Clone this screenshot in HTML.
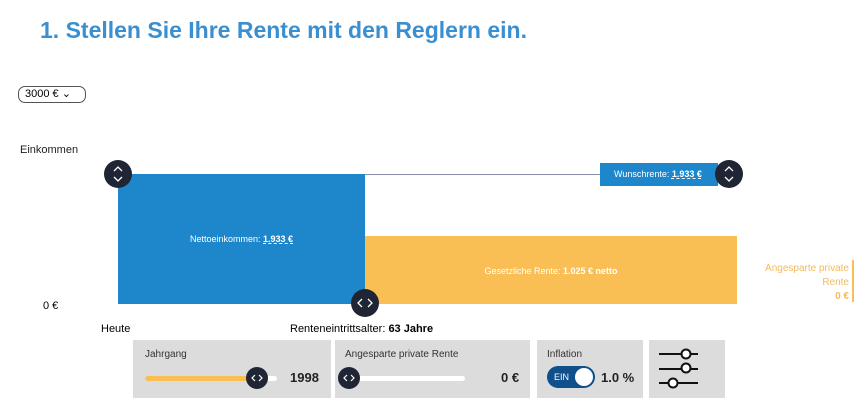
<!DOCTYPE html><html><head><style>
body{margin:0;width:865px;height:410px;background:#fff;font-family:"Liberation Sans",sans-serif;position:relative;overflow:hidden}
.a{position:absolute}
.h{position:absolute;width:28px;height:28px;border-radius:50%;background:#1f2535}
.h svg{position:absolute;left:0;top:0}
.p{position:absolute;top:340px;height:58px;background:#dcdcdc}
.l{position:absolute;font-size:10px;color:#333;top:9px}
</style></head><body>
<div class="a" style="left:40px;top:17px;font-size:23px;font-weight:bold;color:#3a8fd0">1. Stellen Sie Ihre Rente mit den Reglern ein.</div>
<div class="a" style="left:18px;top:86px;width:60px;height:15px;border:1px solid #555;border-radius:7px;font-size:11px;line-height:15px;padding-left:6px">3000 € &#8964;</div>
<div class="a" style="left:20px;top:144px;font-size:11px;color:#222">Einkommen</div>
<div class="a" style="left:365px;top:174px;width:235px;height:1px;background:#8a8ea8"></div>
<div class="a" style="left:118px;top:174px;width:247px;height:130px;background:#1e87cc;color:#fff;font-size:9px;text-align:center;line-height:130px">Nettoeinkommen: <b style="text-decoration:underline dashed">1.933 €</b></div>
<div class="a" style="left:365px;top:236px;width:372px;height:68px;background:#f9bf55;color:#fff;font-size:9px;text-align:center;line-height:70px">Gesetzliche Rente: <b>1.025 € netto</b></div>
<div class="a" style="left:600px;top:163px;width:118px;height:23px;background:#1e87cc;color:#fff;font-size:9px;line-height:23px;padding-left:14px;box-sizing:border-box">Wunschrente: <b style="text-decoration:underline dashed">1.933 €</b></div>
<div class="h" style="left:104px;top:160px"><svg width="28" height="28" fill="none" stroke="#fff" stroke-width="1.3"><polyline points="10,11 14,7 18,11"/><polyline points="10,17 14,21 18,17"/></svg></div>
<div class="h" style="left:715px;top:160px"><svg width="28" height="28" fill="none" stroke="#fff" stroke-width="1.3"><polyline points="10,11 14,7 18,11"/><polyline points="10,17 14,21 18,17"/></svg></div>
<div class="h" style="left:351px;top:289px"><svg width="28" height="28" fill="none" stroke="#fff" stroke-width="1.3"><polyline points="11,10 7,14 11,18"/><polyline points="17,10 21,14 17,18"/></svg></div>
<div class="a" style="left:763px;top:262px;width:86px;text-align:right;font-size:10px;color:#f3bb5e;line-height:14px">Angesparte private Rente<br><b>0 €</b></div>
<div class="a" style="left:852px;top:260px;width:2px;height:42px;background:#f9bf55"></div>
<div class="a" style="left:43px;top:300px;font-size:11px">0 €</div>
<div class="a" style="left:101px;top:323px;font-size:11px">Heute</div>
<div class="a" style="left:290px;top:323px;font-size:11px">Renteneintrittsalter: <b>63 Jahre</b></div>
<div class="p" style="left:133px;width:198px"><div class="l" style="left:12px">Jahrgang</div>
<div class="a" style="left:12px;top:36px;width:132px;height:5px;background:#fff;border-radius:3px"></div>
<div class="a" style="left:12px;top:36px;width:115px;height:5px;background:#f9bf55;border-radius:3px"></div>
<div class="h" style="left:113px;top:27px;width:22px;height:22px"><svg width="22" height="22" fill="none" stroke="#fff" stroke-width="1.2"><polyline points="9,8 6,11 9,14"/><polyline points="13,8 16,11 13,14"/></svg></div>
<div class="a" style="left:157px;top:30px;font-size:13px;font-weight:bold;color:#222">1998</div></div>
<div class="p" style="left:335px;width:195px"><div class="l" style="left:10px">Angesparte private Rente</div>
<div class="a" style="left:12px;top:36px;width:118px;height:5px;background:#fff;border-radius:3px"></div>
<div class="h" style="left:3px;top:27px;width:22px;height:22px"><svg width="22" height="22" fill="none" stroke="#fff" stroke-width="1.2"><polyline points="9,8 6,11 9,14"/><polyline points="13,8 16,11 13,14"/></svg></div>
<div class="a" style="left:166px;top:30px;font-size:13px;font-weight:bold;color:#222">0 €</div></div>
<div class="p" style="left:537px;width:106px"><div class="l" style="left:10px">Inflation</div>
<div class="a" style="left:10px;top:26px;width:48px;height:22px;border-radius:11px;background:#0e4f8c;color:#fff;font-size:9px;line-height:22px;padding-left:7px;box-sizing:border-box">EIN</div>
<div class="a" style="left:38px;top:28px;width:18px;height:18px;border-radius:50%;background:#fff"></div>
<div class="a" style="left:64px;top:30px;font-size:13px;font-weight:bold;color:#222">1.0 %</div></div>
<div class="p" style="left:649px;width:76px"><svg width="76" height="58" stroke="#111" stroke-width="2" fill="#fff"><line x1="10" y1="14" x2="49" y2="14"/><circle cx="44" cy="14" r="4.5" transform="translate(-7,0)"/><line x1="10" y1="29" x2="49" y2="29"/><circle cx="37" cy="28" r="4.5"/><line x1="10" y1="43" x2="49" y2="43"/><circle cx="24" cy="43" r="4.5"/></svg></div>
</body></html>
